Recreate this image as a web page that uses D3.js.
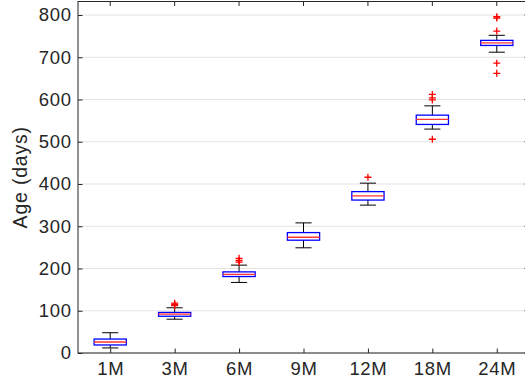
<!DOCTYPE html>
<html>
<head>
<meta charset="utf-8">
<script src="https://cdn.jsdelivr.net/npm/d3@7"></script>
<style>
  body { margin: 0; background: #fff; }
  svg { display: block; font-family: "Liberation Sans", Arial, sans-serif; }
</style>
</head>
<body>
<div id="chart"></div>
<script>
// age groups and box statistics (days)
const categories = ['1M', '3M', '6M', '9M', '12M', '18M', '24M'];
const whiskerLow = [12, 80, 167, 249, 350, 530, 712];
const q1 = [19, 87, 181, 267, 362, 541, 728];
const median = [26, 92, 186, 274, 372, 553, 734];
const q3 = [33, 96, 192, 285, 382, 563, 740];
const whiskerHigh = [48, 107, 208, 308, 402, 585, 752];
const outliers = [[], [112, 115, 118], [215, 219, 224], [], [416], [506, 599, 604, 612], [662, 686, 762, 793, 796]];
const yTicks = [0, 100, 200, 300, 400, 500, 600, 700, 800];

const width = 525, height = 385;
const plot = { left: 78, right: 529, top: 1.5, bottom: 353 };

const svg = d3.select('#chart').append('svg')
  .attr('width', width)
  .attr('height', height);

const x = d3.scaleLinear().domain([0.5, categories.length + 0.5]).range([plot.left, plot.right]);
const y = d3.scaleLinear().domain([0, 832]).range([plot.bottom, plot.top]);

// *** grid *** //
svg.append('g')
  .selectAll('line')
  .data(yTicks)
  .join('line')
  .attr('x1', plot.left).attr('x2', plot.right)
  .attr('y1', d => y(d)).attr('y2', d => y(d))
  .attr('stroke', '#e3e3e3')
  .attr('stroke-width', 1);

// *** boxes *** //
const boxW = 0.25; // half width in data units
const capW = 0.125;
const g = svg.append('g');
categories.forEach((c, i) => {
  const cx = i + 1;
  // whiskers
  g.append('line')
    .attr('x1', x(cx)).attr('x2', x(cx))
    .attr('y1', y(q3[i])).attr('y2', y(whiskerHigh[i]))
    .attr('stroke', '#000').attr('stroke-width', 1);
  g.append('line')
    .attr('x1', x(cx)).attr('x2', x(cx))
    .attr('y1', y(q1[i])).attr('y2', y(whiskerLow[i]))
    .attr('stroke', '#000').attr('stroke-width', 1);
  [whiskerHigh[i], whiskerLow[i]].forEach(v => {
    g.append('line')
      .attr('x1', x(cx - capW)).attr('x2', x(cx + capW))
      .attr('y1', y(v)).attr('y2', y(v))
      .attr('stroke', '#000').attr('stroke-width', 1);
  });
  // box
  g.append('rect')
    .attr('x', x(cx - boxW))
    .attr('y', y(q3[i]))
    .attr('width', x(cx + boxW) - x(cx - boxW))
    .attr('height', y(q1[i]) - y(q3[i]))
    .attr('fill', 'none')
    .attr('stroke', '#0000ff')
    .attr('stroke-width', 1.3);
  // median
  g.append('line')
    .attr('x1', x(cx - boxW)).attr('x2', x(cx + boxW))
    .attr('y1', y(median[i])).attr('y2', y(median[i]))
    .attr('stroke', '#ff3333').attr('stroke-width', 1.3);
  // outliers
  outliers[i].forEach(v => {
    const px = x(cx), py = y(v);
    g.append('path')
      .attr('d', `M${px - 3.5},${py}H${px + 3.5}M${px},${py - 3.5}V${py + 3.5}`)
      .attr('stroke', '#ff0000').attr('stroke-width', 1.3);
  });
});

// *** axes *** //
const tickLen = 4.5;
const axisColor = '#262626';
const yAxis = svg.append('g')
  .attr('transform', `translate(${plot.left},0)`)
  .call(d3.axisLeft(y).tickValues(yTicks).tickSizeInner(-tickLen).tickSizeOuter(0).tickPadding(7));
const xAxis = svg.append('g')
  .attr('transform', `translate(0,${plot.bottom})`)
  .call(d3.axisBottom(x).tickValues(d3.range(1, categories.length + 1))
    .tickFormat(d => categories[d - 1]).tickSizeInner(-tickLen).tickSizeOuter(0).tickPadding(9));
[yAxis, xAxis].forEach(a => {
  a.select('.domain').remove();
  a.selectAll('line').attr('stroke', axisColor);
  a.selectAll('text').attr('fill', axisColor)
    .style('font-size', '18.5px')
    .style('letter-spacing', '0.7px');
});
yAxis.selectAll('text').attr('dx', '0.7px');

// top / right ticks
svg.append('g').selectAll('line')
  .data(d3.range(1, categories.length + 1))
  .join('line')
  .attr('x1', d => x(d)).attr('x2', d => x(d))
  .attr('y1', plot.top).attr('y2', plot.top + tickLen)
  .attr('stroke', axisColor);
svg.append('g').selectAll('line')
  .data(yTicks)
  .join('line')
  .attr('x1', plot.right).attr('x2', plot.right - tickLen)
  .attr('y1', d => y(d)).attr('y2', d => y(d))
  .attr('stroke', axisColor);

// frame
svg.append('rect')
  .attr('x', plot.left).attr('y', plot.top)
  .attr('width', plot.right - plot.left).attr('height', plot.bottom - plot.top)
  .attr('fill', 'none')
  .attr('stroke', axisColor)
  .attr('stroke-width', 1);

// y label
svg.append('text')
  .attr('transform', `translate(27,${(plot.top + plot.bottom) / 2}) rotate(-90)`)
  .attr('text-anchor', 'middle')
  .attr('fill', axisColor)
  .style('font-size', '19.5px')
  .style('letter-spacing', '0.8px')
  .text('Age (days)');
</script>
</body>
</html>
